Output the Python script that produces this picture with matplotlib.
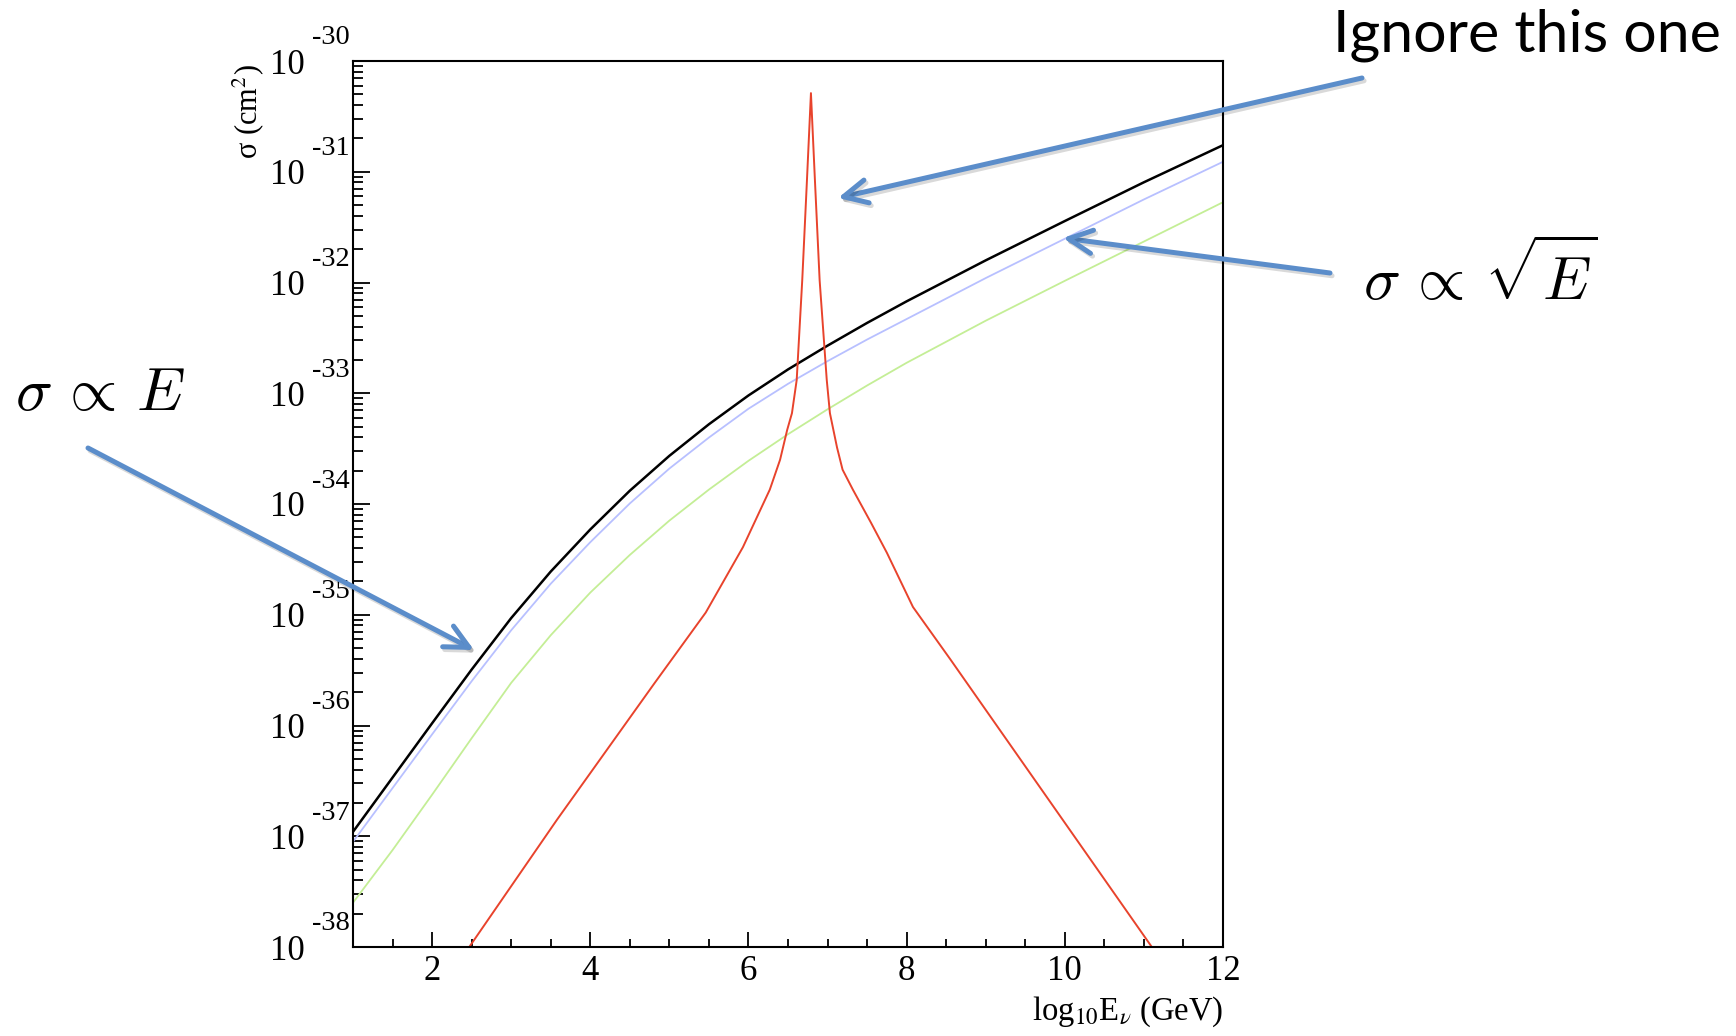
import numpy as np
import matplotlib
matplotlib.use("Agg")
import matplotlib.pyplot as plt
from matplotlib.ticker import FixedLocator, FixedFormatter, LogLocator, NullFormatter, MultipleLocator
import matplotlib.transforms as mtransforms
import matplotlib.patheffects as pe
from matplotlib.patches import FancyArrowPatch

plt.rcParams['font.family'] = ['Liberation Serif', 'DejaVu Serif']

# ---------------- data (log10 E in GeV, log10 sigma in cm^2) ----------------
x_total = [1.0, 1.5, 2.0, 2.5, 3.0, 3.5, 4.0, 4.5, 5.0, 5.5, 6.0, 6.5, 7.0, 7.5, 8.0, 9.0, 10.0, 11.0, 12.0]
log_sigma_total = [-36.96, -36.47, -35.98, -35.495, -35.03, -34.61, -34.23, -33.88, -33.565, -33.28,
                   -33.02, -32.785, -32.57, -32.365, -32.17, -31.80, -31.445, -31.095, -30.76]

x_cc = [1.0, 1.5, 2.0, 2.5, 3.0, 3.5, 4.0, 4.5, 5.0, 5.5, 6.0, 6.5, 7.0, 7.5, 8.0, 9.0, 10.0, 11.0, 12.0]
log_sigma_cc = [-37.05, -36.565, -36.08, -35.60, -35.14, -34.72, -34.345, -33.995, -33.68, -33.40,
                -33.14, -32.915, -32.71, -32.515, -32.33, -31.96, -31.605, -31.25, -30.91]

x_nc = [1.0, 1.5, 2.0, 2.5, 3.0, 3.5, 4.0, 4.5, 5.0, 5.5, 6.0, 6.5, 7.0, 7.5, 8.0, 9.0, 10.0, 11.0, 12.0]
log_sigma_nc = [-37.60, -37.125, -36.625, -36.115, -35.615, -35.185, -34.80, -34.46, -34.15, -33.87,
                -33.61, -33.37, -33.145, -32.93, -32.725, -32.345, -31.985, -31.63, -31.275]

x_glashow = [2.47, 3.58, 4.81, 5.46, 5.93, 6.27, 6.40, 6.49, 6.55, 6.61, 6.68, 6.74, 6.79,
             6.84, 6.90, 6.99, 7.03, 7.12, 7.19, 7.32, 7.55, 7.75, 8.08, 8.55, 11.10]
log_sigma_glashow = [-38.0, -36.85, -35.62, -34.98, -34.39, -33.87, -33.60, -33.33, -33.18, -32.88,
                     -31.98, -31.07, -30.29, -31.07, -31.98, -32.88, -33.18, -33.49, -33.69, -33.87,
                     -34.17, -34.44, -34.93, -35.40, -38.0]

x_major_ticks = [2, 4, 6, 8, 10, 12]
x_tick_labels = ['2', '4', '6', '8', '10', '12']
y_decades = [-38, -37, -36, -35, -34, -33, -32, -31, -30]
y_base_labels = ['10'] * len(y_decades)
y_exponent_labels = ['-38', '-37', '-36', '-35', '-34', '-33', '-32', '-31', '-30']

# ---------------- figure ----------------
W, H = 1736, 1036
fig = plt.figure(figsize=(W / 100, H / 100), dpi=100)
fig.patch.set_facecolor('white')

def fx(px):
    return px / W

def fy(py):
    return 1 - py / H

ax = fig.add_axes([fx(353), 89 / H, 870 / W, 886 / H])
ax.set_yscale('log')
ax.set_xlim(1, 12)
ax.set_ylim(1e-38, 1e-30)

ax.plot(x_nc, 10.0 ** np.array(log_sigma_nc), color='#c4ee96', lw=1.3, solid_joinstyle='round')
ax.plot(x_cc, 10.0 ** np.array(log_sigma_cc), color='#b8c0ff', lw=1.3, solid_joinstyle='round')
ax.plot(x_total, 10.0 ** np.array(log_sigma_total), color='black', lw=1.8, solid_joinstyle='round')
ax.plot(x_glashow, 10.0 ** np.array(log_sigma_glashow), color='#e8432c', lw=1.4, solid_joinstyle='round')

for s in ax.spines.values():
    s.set_linewidth(1.5)
    s.set_color('black')

# x ticks
ax.xaxis.set_major_locator(FixedLocator(x_major_ticks))
ax.xaxis.set_major_formatter(FixedFormatter(x_tick_labels))
ax.xaxis.set_minor_locator(MultipleLocator(0.5))
ax.tick_params(axis='x', which='major', direction='in', length=11, width=1.3,
               labelsize=25, pad=6, top=False)
ax.tick_params(axis='x', which='minor', direction='in', length=6, width=1.3, top=False)

# y ticks
yt = [10.0 ** d for d in y_decades]
ax.yaxis.set_major_locator(FixedLocator(yt))
ax.yaxis.set_major_formatter(FixedFormatter(y_base_labels))
ax.yaxis.set_minor_locator(LogLocator(base=10, subs=np.arange(2, 10)))
ax.yaxis.set_minor_formatter(NullFormatter())
ax.tick_params(axis='y', which='major', direction='in', length=12, width=1.3,
               labelsize=25, pad=34.5, right=False)
ax.tick_params(axis='y', which='minor', direction='in', length=7, width=1.3, right=False)

# exponents of the y tick labels
exp_trans = ax.get_yaxis_transform() + mtransforms.ScaledTranslation(0, 0.23, fig.dpi_scale_trans)
for d, lab in zip(y_decades, y_exponent_labels):
    ax.text(-0.047, 10.0 ** d, lab, transform=exp_trans, ha='left', va='center',
            fontsize=20.5, clip_on=False)

# axis labels
ax.set_ylabel('σ (cm$^{2}$)', fontsize=22, loc='top', math_fontfamily='stix')
ax.yaxis.set_label_coords(-0.1, 0.996)
ax.set_xlabel('log$_{10}$E$_{\\nu}$ (GeV)', fontsize=23.5, loc='right', math_fontfamily='stix')
ax.xaxis.set_label_coords(1.0, -0.054)

# ---------------- annotations ----------------
arrow_color = '#5b8dca'
arrows = [((1362, 78), (838, 198)),
          ((1330, 273), (1063, 238)),
          ((88, 448), (474, 650))]
for tail, tip in arrows:
    a = FancyArrowPatch((fx(tail[0]), fy(tail[1])), (fx(tip[0]), fy(tip[1])),
                        transform=fig.transFigure,
                        arrowstyle='->,head_length=0.85,head_width=0.42',
                        mutation_scale=20, lw=3.6, color=arrow_color,
                        capstyle='round', joinstyle='round', shrinkA=0, shrinkB=0)
    a.set_path_effects([pe.SimpleLineShadow(offset=(1.5, -2.0), shadow_color='black', alpha=0.15),
                        pe.Normal()])
    fig.add_artist(a)

fig.text(fx(1721), fy(52), 'Ignore this one', family=['Lato', 'DejaVu Sans'],
         fontsize=42.5, ha='right', va='baseline')
fig.text(fx(1363), fy(300), r'$\sigma\,\propto\,\sqrt{E}$', fontsize=44,
         math_fontfamily='cm', ha='left', va='baseline')
fig.text(fx(15), fy(410), r'$\sigma\,\propto\,E$', fontsize=44,
         math_fontfamily='cm', ha='left', va='baseline')

fig.savefig('out.png', dpi=100, facecolor='white')
